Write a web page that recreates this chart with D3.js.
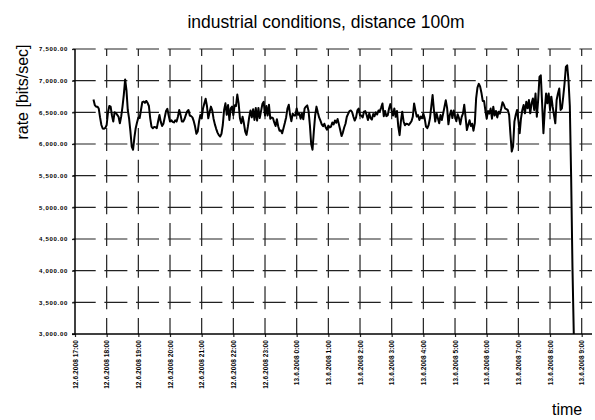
<!DOCTYPE html>
<html>
<head>
<meta charset="utf-8">
<script src="https://cdn.jsdelivr.net/npm/d3@7"></script>
<style>
  html, body { margin: 0; padding: 0; background: #fff; }
  svg { display: block; font-family: Arial, 'Liberation Sans', sans-serif; }
</style>
</head>
<body>
<div id="chart"></div>
<script>
const TITLE = 'industrial conditions, distance 100m';
const Y_LABEL = 'rate [bits/sec]';
const X_LABEL = 'time';

// logger: first sample and interval between samples (seconds)
const START = '2008-06-12T17:35:00';
const INTERVAL_SEC = 150;

// measured rate, bits/sec
const rates = [
  6704, 6615, 6590, 6590, 6560, 6420, 6300, 6245, 6240, 6255,
  6300, 6500, 6600, 6590, 6450, 6354, 6500, 6490, 6460, 6430,
  6327, 6432, 6590, 6780, 7020, 6850, 6537, 6400, 6200, 5960,
  5909, 6100, 6250, 6340, 6420, 6410, 6537, 6660, 6670, 6650,
  6680, 6650, 6600, 6406, 6270, 6250, 6270, 6265, 6250, 6360,
  6458, 6350, 6285, 6320, 6420, 6520, 6555, 6450, 6354, 6375,
  6350, 6340, 6375, 6354, 6432, 6537, 6458, 6354, 6354, 6395,
  6460, 6515, 6537, 6450, 6440, 6420, 6360, 6275, 6160, 6197,
  6354, 6458, 6406, 6560, 6640, 6715, 6600, 6406, 6500, 6590,
  6530, 6400, 6310, 6240, 6180, 6140, 6118, 6160, 6300, 6537,
  6642, 6460, 6615, 6380, 6563, 6590, 6458, 6610, 6600, 6780,
  6642, 6406, 6327, 6432, 6327, 6197, 6144, 6270, 6420, 6530,
  6420, 6550, 6380, 6570, 6370, 6570, 6410, 6520, 6630, 6665,
  6450, 6600, 6450, 6620, 6400, 6420, 6410, 6340, 6285, 6390,
  6280, 6210, 6215, 6170, 6250, 6330, 6420, 6560, 6620, 6460,
  6360, 6480, 6450, 6450, 6560, 6460, 6480, 6400, 6480, 6390,
  6560, 6590, 6610, 6520, 6300, 6000, 5909, 6200, 6450, 6590,
  6500, 6420, 6370, 6310, 6280, 6320, 6260, 6225, 6290, 6260,
  6275, 6340, 6310, 6370, 6335, 6395, 6310, 6220, 6125, 6180,
  6260, 6320, 6430, 6475, 6520, 6530, 6505, 6430, 6370, 6420,
  6530, 6560, 6450, 6450, 6420, 6510, 6520, 6458, 6380, 6484,
  6406, 6385, 6475, 6440, 6500, 6465, 6530, 6515, 6575, 6640,
  6440, 6520, 6440, 6455, 6560, 6630, 6530, 6450, 6560, 6430,
  6520, 6275, 6140, 6360, 6510, 6360, 6295, 6320, 6315, 6300,
  6330, 6360, 6430, 6640, 6530, 6432, 6455, 6380, 6432, 6406,
  6480, 6406, 6275, 6250, 6300, 6406, 6590, 6772, 6537, 6354,
  6484, 6406, 6327, 6458, 6380, 6480, 6585, 6690, 6570, 6310,
  6455, 6530, 6410, 6530, 6440, 6360, 6470, 6410, 6310, 6425,
  6480, 6620, 6420, 6220, 6300, 6375, 6285, 6320, 6210, 6330,
  6720, 6890, 6950, 6910, 6810, 6680, 6680, 6530, 6400, 6520,
  6480, 6560, 6400, 6590, 6450, 6520, 6420, 6510, 6480, 6560,
  6660, 6620, 6560, 6550, 6535, 6460, 6150, 5880, 5961, 6354,
  6458, 6537, 6380, 6170, 6406, 6537, 6615, 6484, 6667, 6563,
  6694, 6484, 6642, 6720, 6537, 6798, 6432, 6694, 7059, 7085,
  6642, 6170, 6537, 6798, 6642, 6798, 6537, 6746, 6590, 6458,
  6327, 6694, 6798, 6877, 6537, 6563, 6746, 6955, 7216, 7242,
  7000, 6600, 5479, 4058, 3000
];

const xTicks = [
  '2008-06-12T17:00', '2008-06-12T18:00', '2008-06-12T19:00', '2008-06-12T20:00',
  '2008-06-12T21:00', '2008-06-12T22:00', '2008-06-12T23:00', '2008-06-13T00:00',
  '2008-06-13T01:00', '2008-06-13T02:00', '2008-06-13T03:00', '2008-06-13T04:00',
  '2008-06-13T05:00', '2008-06-13T06:00', '2008-06-13T07:00', '2008-06-13T08:00',
  '2008-06-13T09:00'
];
const yTicks = [3000, 3500, 4000, 4500, 5000, 5500, 6000, 6500, 7000, 7500];

const WIDTH = 595;
const HEIGHT = 420;
const margins = { left: 75, right: 3, top: 49, bottom: 86 };
const GRID_DASH = '23,8.67';

/*
* drawChart - builds the svg, axes, grid and the rate line
*/
function drawChart() {
  const parse = d3.isoParse;
  const ticks = xTicks.map(parse);
  const t0 = parse(START);
  const nodes = rates.map((v, i) => ({ t: new Date(t0.getTime() + i * INTERVAL_SEC * 1000), v }));

  const right = WIDTH - margins.right;
  const bottom = HEIGHT - margins.bottom;
  const x = d3.scaleTime().domain([ticks[0], ticks[ticks.length - 1]]).range([margins.left, 581.7]);
  const y = d3.scaleLinear().domain([3000, 7500]).range([bottom, margins.top]);

  const root = d3.select('#chart').append('svg').attr('width', WIDTH).attr('height', HEIGHT);

  // title and axis names
  root.append('text').attr('x', 326).attr('y', 28).attr('text-anchor', 'middle')
    .style('font-size', '17.5px').text(TITLE);
  root.append('text').attr('transform', 'translate(28,92) rotate(-90)').attr('text-anchor', 'middle')
    .style('font-size', '16px').text(Y_LABEL);
  root.append('text').attr('x', 552).attr('y', 415).style('font-size', '16px').text(X_LABEL);

  // grid
  const grid = root.append('g').attr('class', 'grid').attr('stroke', '#222').attr('stroke-width', 1.2);
  grid.selectAll('line.h').data(yTicks.slice(1)).join('line').attr('class', 'h')
    .attr('x1', margins.left - 2.3).attr('x2', right)
    .attr('y1', (d) => y(d)).attr('y2', (d) => y(d))
    .attr('stroke-dasharray', GRID_DASH);
  grid.selectAll('line.v').data(ticks.slice(1)).join('line').attr('class', 'v')
    .attr('x1', (d) => x(d)).attr('x2', (d) => x(d))
    .attr('y1', margins.top).attr('y2', bottom)
    .attr('stroke-dasharray', GRID_DASH).attr('stroke-dashoffset', 16);

  // axes
  const yAxis = d3.axisLeft(y).tickValues(yTicks).tickFormat(d3.format(',.2f')).tickSize(3).tickPadding(4);
  const ga = root.append('g').attr('transform', `translate(${margins.left},0)`).call(yAxis);
  ga.select('.domain').remove();
  ga.selectAll('line').attr('stroke', '#222').attr('stroke-width', 1.2);
  ga.selectAll('text').style('font-size', '6px').style('font-weight', 'bold').style('letter-spacing', '0.7px')
    .attr('font-family', null);

  const xAxis = d3.axisBottom(x).tickValues(ticks).tickFormat(d3.timeFormat('%-d.%-m.%Y %-H:%M')).tickSize(3);
  const gx = root.append('g').attr('transform', `translate(0,${bottom})`).call(xAxis);
  gx.select('.domain').remove();
  gx.selectAll('line').attr('stroke', '#222').attr('stroke-width', 1.2);
  gx.selectAll('text').attr('font-family', null)
    .attr('transform', 'rotate(-90)').attr('text-anchor', 'end')
    .attr('x', -6).attr('y', 0).attr('dy', '0.35em')
    .style('font-size', '6.5px').style('font-weight', 'bold').style('letter-spacing', '0.1px');

  root.append('line').attr('x1', margins.left).attr('x2', margins.left)
    .attr('y1', margins.top).attr('y2', bottom).attr('stroke', '#000').attr('stroke-width', 1.5);
  root.append('line').attr('x1', margins.left - 3).attr('x2', right)
    .attr('y1', bottom).attr('y2', bottom).attr('stroke', '#000').attr('stroke-width', 1.5);

  // rate line
  const line = d3.line().x((d) => x(d.t)).y((d) => y(d.v));
  root.append('path').datum(nodes).attr('d', line)
    .attr('fill', 'none').attr('stroke', '#000').attr('stroke-width', 2).attr('stroke-linejoin', 'round');
}

drawChart();
</script>
</body>
</html>
